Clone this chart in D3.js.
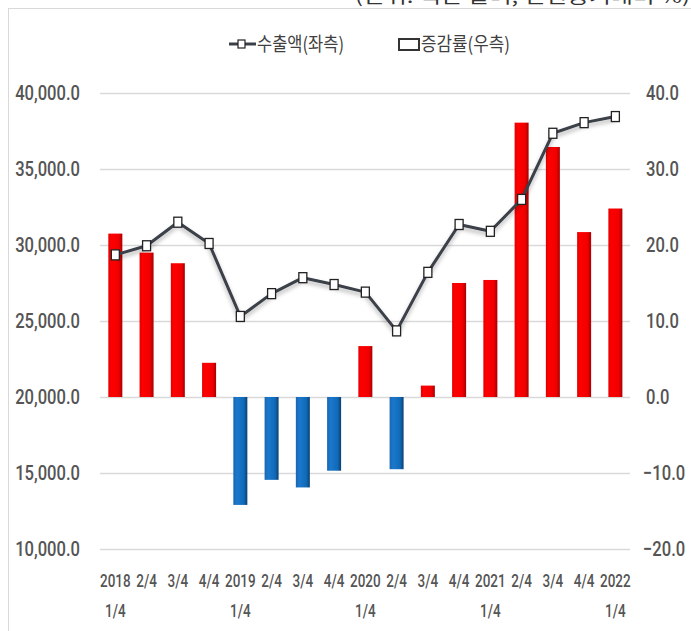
<!DOCTYPE html>
<html>
<head>
<meta charset="utf-8">
<script src="https://cdn.jsdelivr.net/npm/d3@7"></script>
<style>
  body { margin: 0; background: #fff; }
  svg { display: block; }
</style>
</head>
<body>
<script>
// quarter labels (two lines)
const labelTop = ["2018","2/4","3/4","4/4","2019","2/4","3/4","4/4","2020","2/4","3/4","4/4","2021","2/4","3/4","4/4","2022"];
const labelBottom = ["1/4","","","","1/4","","","","1/4","","","","1/4","","","","1/4"];
// 수출액 (left axis)
const exports = [29350, 29950, 31500, 30100, 25300, 26800, 27850, 27400, 26900, 24350, 28200, 31350, 30900, 33000, 37350, 38050, 38450];
// 증감률 (right axis, %)
const growth = [21.5, 19.0, 17.6, 4.5, -14.2, -10.9, -11.9, -9.7, 6.7, -9.5, 1.5, 15.0, 15.4, 36.1, 32.9, 21.7, 24.8];
const leftTicks = [10000, 15000, 20000, 25000, 30000, 35000, 40000];
const rightTicks = [-20, -10, 0, 10, 20, 30, 40];

const w = 691, h = 631;
const axisFont = "Roboto, 'DejaVu Sans', sans-serif";
const krFont = "'Noto Sans CJK KR', sans-serif";
const axisColor = "#555";

const svg = d3.select("body").append("svg")
    .attr("width", w).attr("height", h);

const defs = svg.append("defs");
const redGrad = defs.append("linearGradient").attr("id", "redGrad");
redGrad.append("stop").attr("offset", "0%").attr("stop-color", "#e00000");
redGrad.append("stop").attr("offset", "20%").attr("stop-color", "#ff0000");
redGrad.append("stop").attr("offset", "75%").attr("stop-color", "#f00000");
redGrad.append("stop").attr("offset", "100%").attr("stop-color", "#a80000");
const blueGrad = defs.append("linearGradient").attr("id", "blueGrad");
blueGrad.append("stop").attr("offset", "0%").attr("stop-color", "#1a66b0");
blueGrad.append("stop").attr("offset", "25%").attr("stop-color", "#1b78cc");
blueGrad.append("stop").attr("offset", "75%").attr("stop-color", "#106ab8");
blueGrad.append("stop").attr("offset", "100%").attr("stop-color", "#0a3f70");
const shadow = defs.append("filter").attr("id", "shadow")
    .attr("x", "-10%").attr("y", "-10%").attr("width", "120%").attr("height", "140%");
shadow.append("feDropShadow").attr("dx", 0).attr("dy", 3).attr("stdDeviation", 2)
    .attr("flood-color", "#000").attr("flood-opacity", 0.3);

// frame + cut-off header
svg.append("text")
    .attr("x", 355).attr("y", 3)
    .attr("textLength", 335).attr("lengthAdjust", "spacingAndGlyphs")
    .style("font-family", krFont).style("font-size", "18px").style("fill", "#333")
    .text("(단위: 백만 달러, 전년동기대비 %)");
svg.append("line").attr("x1", 8).attr("x2", w).attr("y1", 8.5).attr("y2", 8.5)
    .attr("stroke", "#d9d9d9");
svg.append("line").attr("x1", 8.5).attr("x2", 8.5).attr("y1", 8).attr("y2", h)
    .attr("stroke", "#d9d9d9");

// scales
const x = d3.scalePoint().domain(d3.range(labelTop.length))
    .range([99.7, 631]).padding(0.5);
const yL = d3.scaleLinear().domain([10000, 40000]).range([549, 93]);
const yR = d3.scaleLinear().domain([-20, 40]).range([549, 93]);
const barW = 14;

// gridlines
svg.append("g").selectAll("line").data(leftTicks).join("line")
    .attr("x1", 100).attr("x2", 630)
    .attr("y1", d => Math.round(yL(d)) + 0.5).attr("y2", d => Math.round(yL(d)) + 0.5)
    .attr("stroke", "#d9d9d9").attr("stroke-width", 1.5);

// left axis (labels squeezed horizontally like the original narrow font)
const leftAxis = svg.append("g").attr("transform", "translate(100,0)")
    .call(d3.axisLeft(yL).tickValues(leftTicks).tickSize(0).tickPadding(20)
        .tickFormat(d3.format(",.1f")));
leftAxis.select(".domain").remove();
leftAxis.selectAll("text")
    .attr("x", 0).attr("transform", "translate(-20,0) scale(0.79,1)")
    .style("font-family", axisFont).style("font-size", "21px").style("font-weight", 500)
    .style("fill", axisColor);

// right axis
const rightAxis = svg.append("g").attr("transform", "translate(630,0)")
    .call(d3.axisRight(yR).tickValues(rightTicks).tickSize(0).tickPadding(15)
        .tickFormat(d3.format(".1f")));
rightAxis.select(".domain").remove();
rightAxis.selectAll("text")
    .attr("x", 0).attr("transform", (d) => `translate(${d < 0 ? 13 : 16},0) scale(0.79,1)`)
    .style("font-family", axisFont).style("font-size", "21px").style("font-weight", 500)
    .style("fill", axisColor);

// bars
svg.append("g").selectAll("rect").data(growth).join("rect")
    .attr("x", (d, i) => x(i) - barW / 2)
    .attr("y", d => yR(Math.max(0, d)))
    .attr("width", barW)
    .attr("height", d => Math.abs(yR(d) - yR(0)))
    .attr("fill", d => d >= 0 ? "url(#redGrad)" : "url(#blueGrad)");

// export line
const line = d3.line().x((d, i) => x(i)).y(d => yL(d));
svg.append("path").datum(exports)
    .attr("d", line)
    .attr("fill", "none")
    .attr("stroke", "#3a3f48")
    .attr("stroke-width", 3)
    .attr("stroke-linejoin", "round")
    .attr("filter", "url(#shadow)");
svg.append("g").selectAll("rect").data(exports).join("rect")
    .attr("x", (d, i) => x(i) - 4)
    .attr("y", d => yL(d) - 5)
    .attr("width", 8).attr("height", 10)
    .attr("fill", "#fff").attr("stroke", "#222").attr("stroke-width", 1.3);

// x labels
const xl = svg.append("g");
xl.selectAll("text.l1").data(labelTop).join("text").attr("class", "l1")
    .attr("transform", (d, i) => `translate(${x(i)},587) scale(0.75,1)`)
    .attr("text-anchor", "middle")
    .style("font-family", axisFont).style("font-size", "18px").style("font-weight", 500)
    .style("fill", axisColor)
    .text(d => d);
xl.selectAll("text.l2").data(labelBottom).join("text").attr("class", "l2")
    .attr("transform", (d, i) => `translate(${x(i)},617) scale(0.75,1)`)
    .attr("text-anchor", "middle")
    .style("font-family", axisFont).style("font-size", "18px").style("font-weight", 500)
    .style("fill", axisColor)
    .text(d => d);

// legend
const lg = svg.append("g");
lg.append("line").attr("x1", 229).attr("x2", 256).attr("y1", 44).attr("y2", 44)
    .attr("stroke", "#3a3f48").attr("stroke-width", 3);
lg.append("rect").attr("x", 238).attr("y", 40).attr("width", 7).attr("height", 8)
    .attr("fill", "#fff").attr("stroke", "#222").attr("stroke-width", 1.2);
lg.append("text").attr("x", 257).attr("y", 51)
    .attr("textLength", 87).attr("lengthAdjust", "spacingAndGlyphs")
    .style("font-family", krFont).style("font-size", "19px").style("fill", "#404040")
    .text("수출액(좌측)");
lg.append("rect").attr("x", 399).attr("y", 39).attr("width", 20).attr("height", 11)
    .attr("fill", "#fff").attr("stroke", "#333").attr("stroke-width", 2);
lg.append("text").attr("x", 421).attr("y", 51)
    .attr("textLength", 89).attr("lengthAdjust", "spacingAndGlyphs")
    .style("font-family", krFont).style("font-size", "19px").style("fill", "#404040")
    .text("증감률(우측)");
</script>
</body>
</html>
